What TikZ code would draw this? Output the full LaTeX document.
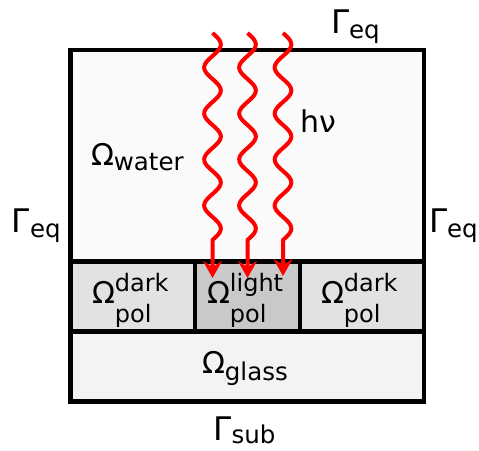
\documentclass[tikz,border=0pt]{standalone}
\usepackage{fontspec}
\setmainfont{DejaVu Sans}
\usetikzlibrary{arrows.meta}
\newcommand{\bigsym}[1]{{\fontsize{30}{30}\selectfont #1}}
\newcommand{\biggam}{{\fontsize{32.5}{33}\selectfont Γ}}
\newcommand{\lowsub}[2]{{\fontsize{24.5}{25}\selectfont\raisebox{-#1pt}{#2}}}
\newcommand{\stacked}[2]{{\fontsize{24}{25}\selectfont\makebox[0pt][l]{\raisebox{12pt}{#1}}\raisebox{-19pt}{#2}}}
\definecolor{waterc}{HTML}{FAFAFA}
\definecolor{darkc}{HTML}{E2E2E2}
\definecolor{lightc}{HTML}{C9C9C9}
\definecolor{glassc}{HTML}{F3F3F3}
\definecolor{wavec}{HTML}{FF0000}
\tikzset{
  border/.style={line width=4.5pt, draw=black, line join=miter},
  lbl/.style={anchor=base west, inner sep=0pt, outer sep=0pt},
  wave/.style={draw=wavec, line width=4pt, line join=round,
    -{Stealth[length=17pt, width=19pt, inset=6pt]}},
}
\begin{document}
\begin{tikzpicture}[x=1pt,y=-1pt]
\useasboundingbox (0,0) rectangle (479,450);
% regions
\fill[waterc] (70.5,50) rectangle (424,261.5);
\fill[darkc] (70.5,261.5) rectangle (195,331.5);
\fill[lightc] (195,261.5) rectangle (300,331.5);
\fill[darkc] (300,261.5) rectangle (424,331.5);
\fill[glassc] (70.5,331.5) rectangle (424,401.5);
% borders
\draw[border] (70.5,50) rectangle (424,401.5);
\draw[border] (70.5,261.5) -- (424,261.5);
\draw[border] (70.5,331.5) -- (424,331.5);
\draw[border] (195,261.5) -- (195,331.5);
\draw[border] (300,261.5) -- (300,331.5);
% labels
\node[lbl] (water) at (91,165) {\bigsym{Ω}\lowsub{5}{water}};
\node[lbl] (darkL) at (92,303) {\bigsym{Ω}\stacked{dark}{pol}};
\node[lbl] (light) at (207,303) {\bigsym{Ω}\stacked{light}{pol}};
\node[lbl] (darkR) at (321,303) {\bigsym{Ω}\stacked{dark}{pol}};
\node[lbl] (glass) at (202,373) {\bigsym{Ω}\lowsub{7}{glass}};
\node[lbl] (geqT) at (331,33) {\biggam\lowsub{5}{eq}};
\node[lbl] (geqL) at (12,232) {\biggam\lowsub{5}{eq}};
\node[lbl] (geqR) at (429,232) {\biggam\lowsub{5}{eq}};
\node[lbl] (gsub) at (213.5,440) {\biggam\lowsub{3}{sub}};
\node[lbl] (hnu) at (300,132) {\bigsym{hν}};
% photons
\coordinate (t1) at (212.5,278);
\coordinate (t2) at (247.5,278);
\coordinate (t3) at (283,276);
\draw[wave] plot[domain=33:240, samples=160, smooth] ({212.5+8.3*sin(7.826087*(\x-33))}, \x) -- (t1);
\draw[wave] plot[domain=33:240, samples=160, smooth] ({247.5+8.3*sin(7.826087*(\x-33))}, \x) -- (t2);
\draw[wave] plot[domain=33:240, samples=160, smooth] ({283+8.3*sin(7.826087*(\x-33))}, \x) -- (t3);
\end{tikzpicture}
\end{document}
